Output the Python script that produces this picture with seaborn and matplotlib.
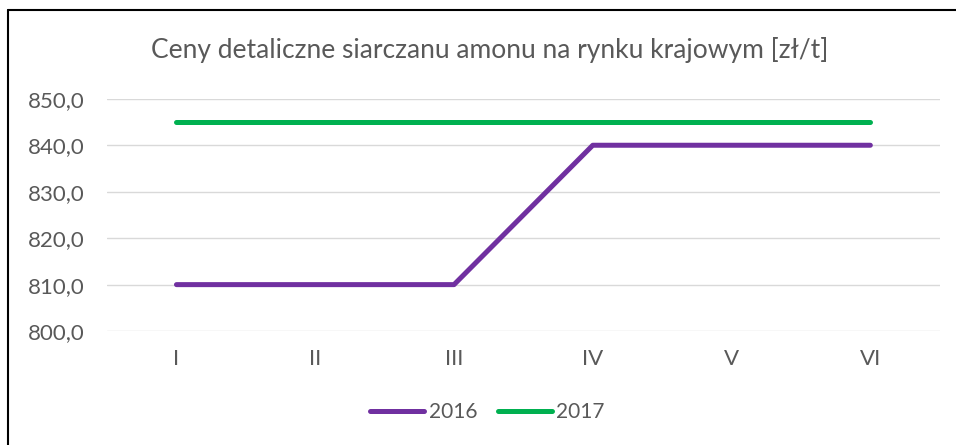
import pandas as pd
import matplotlib.pyplot as plt
import seaborn as sns
from matplotlib.lines import Line2D

# Data
months = ["I", "II", "III", "IV", "V", "VI"]
prices_2016 = [810.0, 810.0, 810.0, 840.0, 840.0, 840.0]
prices_2017 = [845.0, 845.0, 845.0, 845.0, 845.0, 845.0]

df = pd.DataFrame({
    "Miesiąc": months * 2,
    "Cena": prices_2016 + prices_2017,
    "Rok": ["2016"] * 6 + ["2017"] * 6,
})

sns.set_style("white")
plt.rcParams["font.family"] = ["Lato", "DejaVu Sans"]
text_color = "#595959"

fig = plt.figure(figsize=(9.56, 4.45), dpi=100)
ax = fig.add_axes([0.112, 0.256, 0.871, 0.522])

sns.lineplot(data=df, x="Miesiąc", y="Cena", hue="Rok",
             palette={"2016": "#7030A0", "2017": "#00B050"},
             linewidth=3.6, ax=ax, legend=False, sort=False)
for line in ax.lines:
    line.set_solid_capstyle("round")

ax.set_ylim(800, 850)
ax.set_xlim(-0.5, 5.5)
ax.set_yticks(range(800, 851, 10))
ax.set_yticklabels([f"{v:.1f}".replace(".", ",") for v in range(800, 851, 10)])
ax.grid(axis="y", color="#D9D9D9", linewidth=1)
ax.set_axisbelow(True)
for s in ax.spines.values():
    s.set_visible(False)
ax.tick_params(axis="both", length=0, labelsize=16, colors=text_color)
ax.tick_params(axis="y", pad=16)
ax.tick_params(axis="x", pad=13)
ax.set_xlabel("")
ax.set_ylabel("")

fig.text(0.512, 0.888, "Ceny detaliczne siarczanu amonu na rynku krajowym [zł/t]",
         ha="center", va="center", fontsize=19, color=text_color)

handles = [Line2D([], [], color="#7030A0", linewidth=3.6, solid_capstyle="round"),
           Line2D([], [], color="#00B050", linewidth=3.6, solid_capstyle="round")]
fig.legend(handles, ["2016", "2017"], loc="center", bbox_to_anchor=(0.51, 0.074),
           ncol=2, frameon=False, fontsize=15, labelcolor=text_color,
           handlelength=2.6, handletextpad=0.2, columnspacing=1.0)

# Outer frame (left and top edges visible)
fig.add_artist(plt.Line2D([0.008, 0.008], [0, 0.978], color="black", linewidth=1.5,
                          transform=fig.transFigure))
fig.add_artist(plt.Line2D([0.008, 1.0], [0.978, 0.978], color="black", linewidth=1.5,
                          transform=fig.transFigure))

fig.savefig("out.png", dpi=100)
